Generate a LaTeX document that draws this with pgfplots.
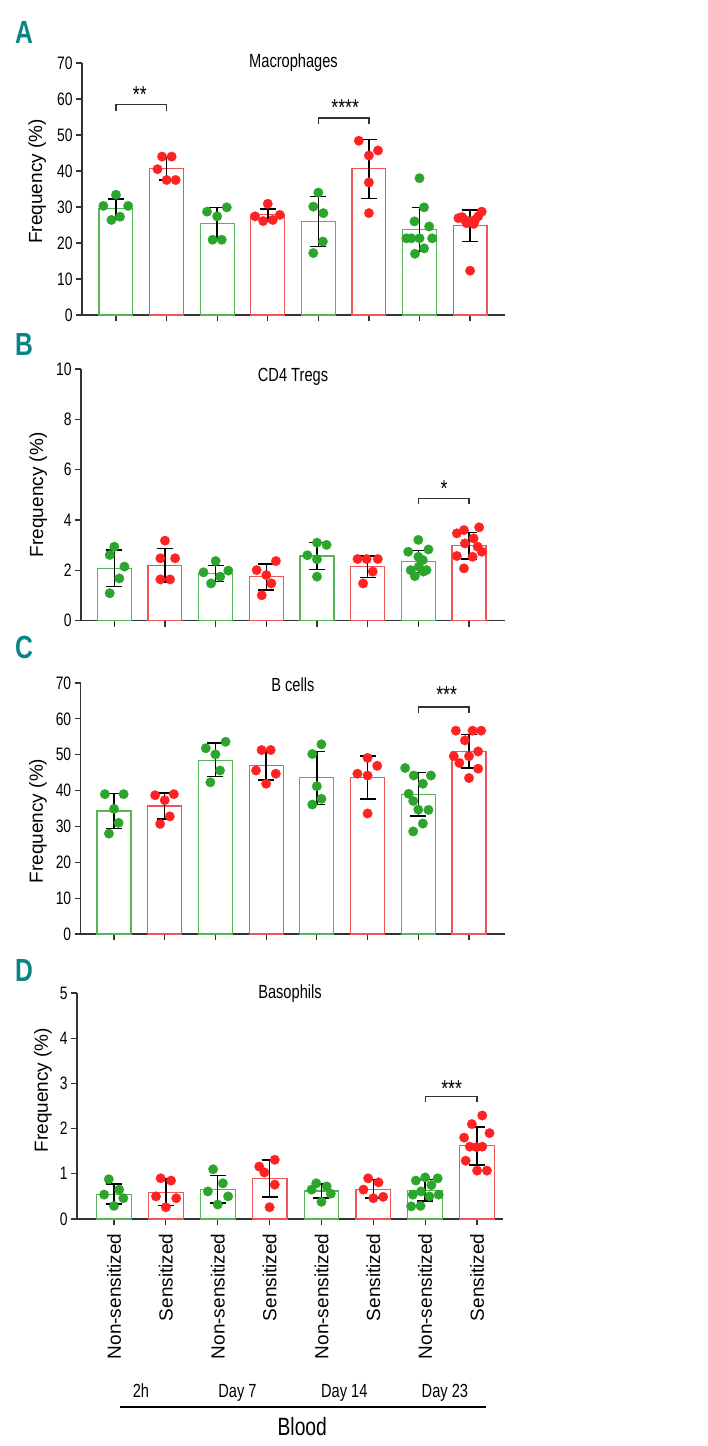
\documentclass[border=0pt]{standalone}
\usepackage{pgfplots}
\pgfplotsset{compat=1.18}
\usepackage{fontspec}
\setmainfont{Liberation Sans}
\newfontfamily\cond[FakeStretch=0.77]{Liberation Sans}
\definecolor{gdot}{HTML}{2BA52B}
\definecolor{gbar}{HTML}{55B455}
\definecolor{rdot}{HTML}{FF2222}
\definecolor{rbar}{HTML}{F05555}
\definecolor{tealA}{HTML}{0A8484}
\definecolor{axc}{HTML}{333333}
\pgfplotsset{
 panel/.style={scale only axis, anchor=south west,
   axis x line*=bottom, axis y line*=left,
   axis line style={axc, line width=1.2pt},
   tick style={axc, line width=1.2pt},
   tick align=outside, major tick length=6pt,
   xtick={0,...,7}, xticklabels={}, ymin=0, clip=false,
   /pgf/number format/assume math mode=true,
   yticklabel style={font=\cond\fontsize{18}{18}\selectfont, text=black},
   ylabel={Frequency (\%)},
   ylabel style={font=\fontsize{19}{19}\selectfont, anchor=center}},
 gbars/.style={ybar, bar width=0.67, bar shift=0pt, draw=gbar, fill=white, line width=1.1pt},
 rbars/.style={ybar, bar width=0.67, bar shift=0pt, draw=rbar, fill=white, line width=1.1pt},
 gpts/.style={only marks, mark=*, mark size=4.8pt, mark options={fill=gdot, draw=gdot, line width=0.2pt}},
 rpts/.style={only marks, mark=*, mark size=4.8pt, mark options={fill=rdot, draw=rdot, line width=0.2pt}},
 errb/.style={draw=none, no markers, forget plot, error bars/.cd, y dir=both, y explicit,
   error bar style={draw=black, line width=1.5pt},
   error mark options={draw=black, line width=1.5pt, mark size=8pt, rotate=90}},
}
\newcommand{\ttl}{\cond\fontsize{19}{19}\selectfont}
\newcommand{\sigf}{\cond\fontsize{23}{23}\selectfont}
\begin{document}
\begin{tikzpicture}
\useasboundingbox (0,0) rectangle (708pt,1446pt);
% ---------------- A ----------------
\begin{axis}[panel, at={(82pt,1131pt)}, width=423pt, height=252pt,
  xmin=-0.672, xmax=7.69, ymax=70, ytick={0,10,...,70},
  ylabel style={at={(axis description cs:-0.106,0.53)}}]
\addplot[gbars] coordinates {(0,29.7) (2,25.5) (4,26.0) (6,23.8)};
\addplot[rbars] coordinates {(1,40.6) (3,27.8) (5,40.6) (7,24.8)};
\addplot[gpts] coordinates {(0,33.4) (-0.25,30.3) (0.24,30.3) (-0.09,26.4) (0.08,27.3)
 (1.80,28.7) (2.19,29.9) (2.0,27.4) (1.91,20.9) (2.09,20.9)
 (4.0,34.0) (3.9,30.1) (4.1,28.3) (4.09,20.4) (3.9,17.2)
 (6.0,38.0) (6.09,29.9) (5.9,26.0) (6.19,24.6) (5.74,21.3) (5.84,21.3) (6.0,21.3) (6.25,21.3) (6.09,18.5) (5.91,17.0)};
\addplot[rpts] coordinates {(0.91,44.0) (1.10,44.0) (0.82,40.5) (1.0,37.5) (1.18,37.5)
 (3.0,30.9) (2.75,27.4) (3.24,27.8) (2.91,26.1) (3.10,26.4)
 (4.8,48.4) (5.18,45.7) (5.0,44.3) (5.0,36.8) (5.0,28.3)
 (7.23,28.7) (6.77,26.9) (6.9,26.4) (7.0,26.0) (7.1,26.4) (6.84,27.2) (7.16,27.4) (6.93,25.5) (7.07,25.3) (7.0,12.3)};
\addplot[errb] table[x=x, y=y, y error plus=ep, y error minus=em, row sep=\\] {
x y ep em\\ 0 29.7 2.5 3.0\\ 1 40.6 3.2 3.1\\ 2 25.5 4.4 4.4\\ 3 27.8 1.7 1.7\\
4 26.0 6.9 7.0\\ 5 40.6 8.1 8.2\\ 6 23.8 6.1 6.2\\ 7 24.8 4.4 4.4\\};
\draw[axc, line width=1.2pt] (axis cs:0,56.7) -- (axis cs:0,58.4) -- (axis cs:1,58.4) -- (axis cs:1,56.7);
\node[font=\sigf] at (axis cs:0.47,61.2) {**};
\draw[axc, line width=1.2pt] (axis cs:4,53.1) -- (axis cs:4,54.7) -- (axis cs:5,54.7) -- (axis cs:5,53.1);
\node[font=\sigf] at (axis cs:4.53,57.5) {****};
\node[font=\ttl] at (axis description cs:0.5,1.0) {Macrophages};
\end{axis}
% ---------------- B ----------------
\begin{axis}[panel, at={(81pt,825.3pt)}, width=424pt, height=251.7pt,
  xmin=-0.657, xmax=7.71, ymax=10, ytick={0,2,...,10},
  ylabel style={at={(axis description cs:-0.101,0.50)}}]
\addplot[gbars] coordinates {(0,2.08) (2,1.88) (4,2.57) (6,2.36)};
\addplot[rbars] coordinates {(1,2.20) (3,1.75) (5,2.15) (7,2.98)};
\addplot[gpts] coordinates {(0,2.94) (-0.09,2.61) (0.2,2.15) (0.1,1.68) (-0.09,1.09)
 (2.0,2.37) (1.76,1.92) (2.25,1.99) (2.09,1.75) (1.91,1.48)
 (4.0,3.10) (4.19,3.01) (3.81,2.60) (4.0,2.44) (4.0,1.75)
 (6.0,3.21) (5.8,2.74) (6.2,2.83) (6.0,2.54) (6.09,2.41) (5.85,2.01) (6.16,2.01) (6.01,2.15) (5.93,1.77) (6.1,1.95)};
\addplot[rpts] coordinates {(1.0,3.18) (0.91,2.48) (1.2,2.48) (0.91,1.64) (1.1,1.64)
 (3.19,2.37) (2.81,2.01) (3.0,1.81) (3.1,1.48) (2.91,1.01)
 (4.8,2.45) (4.98,2.45) (5.2,2.45) (5.1,1.95) (4.91,1.48)
 (7.2,3.71) (6.76,3.47) (6.9,3.60) (7.09,3.27) (6.92,3.07) (7.17,2.94) (7.25,2.74) (6.76,2.57) (7.07,2.54) (6.9,2.08)};
\addplot[errb] table[x=x, y=y, y error plus=ep, y error minus=em, row sep=\\] {
x y ep em\\ 0 2.08 0.73 0.73\\ 1 2.20 0.66 0.66\\ 2 1.88 0.32 0.32\\ 3 1.75 0.51 0.53\\
4 2.57 0.53 0.53\\ 5 2.15 0.43 0.44\\ 6 2.36 0.42 0.44\\ 7 2.98 0.53 0.52\\};
\draw[axc, line width=1.2pt] (axis cs:6,4.62) -- (axis cs:6,4.86) -- (axis cs:7,4.86) -- (axis cs:7,4.62);
\node[font=\sigf] at (axis cs:6.51,5.26) {*};
\node[font=\ttl] at (axis description cs:0.5,0.968) {CD4 Tregs};
\end{axis}
% ---------------- C ----------------
\begin{axis}[panel, at={(80.7pt,512pt)}, width=424.3pt, height=251pt,
  xmin=-0.657, xmax=7.71, ymax=70, ytick={0,10,...,70},
  ylabel style={at={(axis description cs:-0.101,0.45)}}]
\addplot[gbars] coordinates {(0,34.3) (2,48.5) (4,43.7) (6,39.0)};
\addplot[rbars] coordinates {(1,35.7) (3,47.0) (5,43.7) (7,50.9)};
\addplot[gpts] coordinates {(-0.18,39.0) (0.19,39.0) (0,34.9) (0.09,31.0) (-0.1,28.0)
 (2.2,53.6) (1.81,51.8) (2.0,50.1) (2.09,45.6) (1.9,42.3)
 (4.09,52.9) (3.91,50.2) (4.0,41.2) (4.09,37.7) (3.91,36.1)
 (5.74,46.3) (5.91,44.2) (6.25,44.2) (6.09,41.9) (5.81,39.1) (5.9,37.1) (6.2,34.6) (6.0,34.7) (6.09,30.8) (5.9,28.6)};
\addplot[rpts] coordinates {(0.81,38.7) (1.18,39.0) (1.0,37.3) (1.1,32.8) (0.91,30.7)
 (2.91,51.3) (3.09,51.3) (2.8,45.6) (3.19,44.7) (3.0,41.9)
 (5.0,49.1) (5.19,46.9) (4.8,44.7) (5.0,44.2) (5.0,33.6)
 (6.74,56.7) (7.07,56.7) (7.24,56.7) (6.92,54.0) (7.18,50.9) (6.7,49.6) (7.0,49.6) (6.81,47.7) (7.18,46.1) (7.0,43.5)};
\addplot[errb] table[x=x, y=y, y error plus=ep, y error minus=em, row sep=\\] {
x y ep em\\ 0 34.3 4.9 4.9\\ 1 35.7 3.6 3.6\\ 2 48.5 4.7 4.6\\ 3 47.0 3.9 4.1\\
4 43.7 7.2 7.6\\ 5 43.7 5.9 6.1\\ 6 39.0 6.1 6.1\\ 7 50.9 4.8 4.6\\};
\draw[axc, line width=1.2pt] (axis cs:6,61.6) -- (axis cs:6,63.3) -- (axis cs:7,63.3) -- (axis cs:7,61.6);
\node[font=\sigf] at (axis cs:6.56,66.7) {***};
\node[font=\ttl] at (axis description cs:0.5,0.992) {B cells};
\end{axis}
% ---------------- D ----------------
\begin{axis}[panel, at={(77pt,227pt)}, width=426pt, height=226pt,
  xmin=-0.713, xmax=7.50, ymax=5, ytick={0,1,...,5},
  ylabel style={at={(axis description cs:-0.080,0.57)}},
  xticklabels={Non-sensitized,Sensitized,Non-sensitized,Sensitized,Non-sensitized,Sensitized,Non-sensitized,Sensitized},
  xticklabel shift=5pt,
  xticklabel style={rotate=90, anchor=east, font=\fontsize{19}{19}\selectfont, text=black}]
\addplot[gbars] coordinates {(0,0.55) (2,0.66) (4,0.62) (6,0.63)};
\addplot[rbars] coordinates {(1,0.59) (3,0.90) (5,0.66) (7,1.62)};
\addplot[gpts] coordinates {(-0.1,0.88) (-0.19,0.54) (0.1,0.65) (0.18,0.46) (0,0.29)
 (1.91,1.10) (2.1,0.79) (1.81,0.61) (2.2,0.50) (2.0,0.32)
 (3.9,0.79) (4.1,0.72) (3.81,0.65) (4.18,0.56) (4.0,0.38)
 (5.82,0.85) (6.0,0.92) (6.24,0.90) (6.12,0.75) (5.92,0.61) (5.76,0.54) (6.26,0.54) (6.08,0.50) (5.91,0.29) (5.73,0.28)};
\addplot[rpts] coordinates {(0.9,0.90) (1.1,0.85) (0.81,0.50) (1.2,0.46) (1.0,0.26)
 (3.1,1.31) (2.8,1.16) (2.9,1.03) (3.1,0.76) (3.0,0.26)
 (4.9,0.90) (5.1,0.81) (4.81,0.65) (5.0,0.46) (5.19,0.49)
 (7.1,2.29) (6.9,2.10) (6.75,1.80) (7.24,1.90) (6.86,1.60) (6.99,1.59) (7.1,1.60) (6.78,1.29) (7.0,1.07) (7.19,1.07)};
\addplot[errb] table[x=x, y=y, y error plus=ep, y error minus=em, row sep=\\] {
x y ep em\\ 0 0.55 0.22 0.22\\ 1 0.59 0.29 0.29\\ 2 0.66 0.30 0.31\\ 3 0.90 0.41 0.41\\
4 0.62 0.15 0.16\\ 5 0.66 0.21 0.20\\ 6 0.63 0.24 0.23\\ 7 1.62 0.42 0.42\\};
\draw[axc, line width=1.2pt] (axis cs:6,2.58) -- (axis cs:6,2.71) -- (axis cs:7,2.71) -- (axis cs:7,2.58);
\node[font=\sigf] at (axis cs:6.51,2.88) {***};
\node[font=\ttl] at (axis description cs:0.5,0.996) {Basophils};
\node[font=\cond\fontsize{19}{19}\selectfont, anchor=base] at (axis cs:0.52,-3.96) {2h};
\node[font=\cond\fontsize{19}{19}\selectfont, anchor=base] at (axis cs:2.38,-3.96) {Day 7};
\node[font=\cond\fontsize{19}{19}\selectfont, anchor=base] at (axis cs:4.44,-3.96) {Day 14};
\node[font=\cond\fontsize{19}{19}\selectfont, anchor=base] at (axis cs:6.38,-3.96) {Day 23};
\draw[black, line width=1.2pt] (axis cs:0.12,-4.16) -- (axis cs:7.17,-4.16);
\node[font=\cond\fontsize{25}{25}\selectfont, anchor=base] at (axis cs:3.63,-4.78) {Blood};
\end{axis}
% panel letters
\node[font=\cond\bfseries\fontsize{32}{32}\selectfont, text=tealA] at (24pt,1413pt) {A};
\node[font=\cond\bfseries\fontsize{32}{32}\selectfont, text=tealA] at (24pt,1101pt) {B};
\node[font=\cond\bfseries\fontsize{32}{32}\selectfont, text=tealA] at (24pt,799pt) {C};
\node[font=\cond\bfseries\fontsize{32}{32}\selectfont, text=tealA] at (24pt,476pt) {D};
\end{tikzpicture}
\end{document}
